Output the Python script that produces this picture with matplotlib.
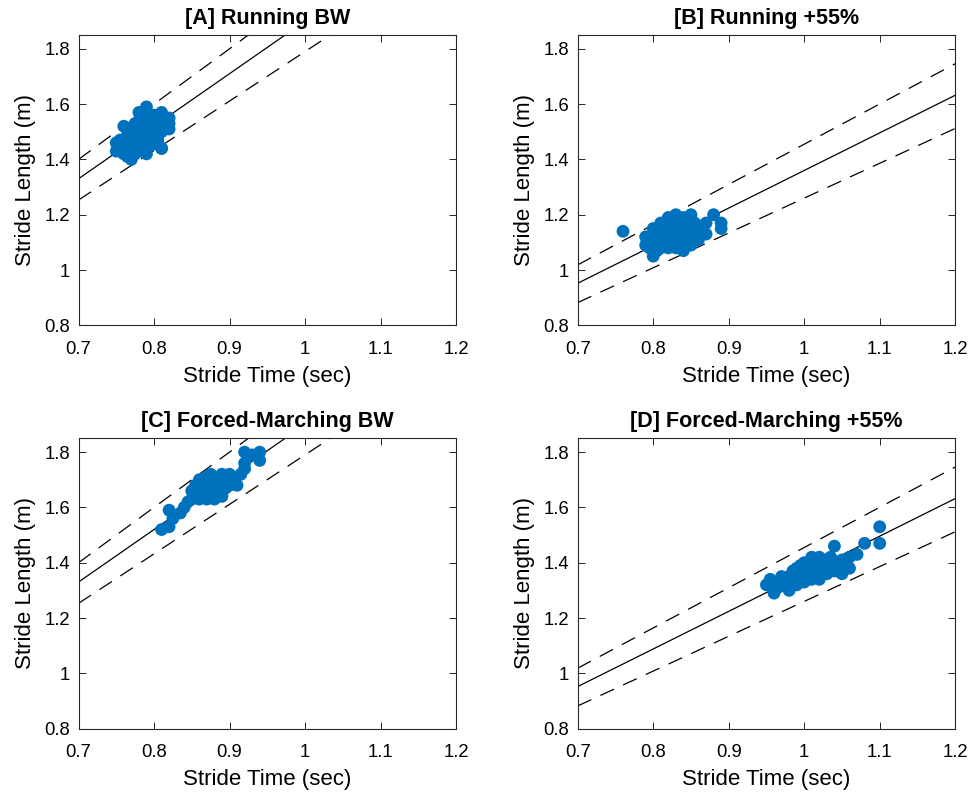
import matplotlib
matplotlib.use("Agg")
import matplotlib.pyplot as plt
import numpy as np

plt.rcParams["font.family"] = ["Liberation Sans", "DejaVu Sans"]

# stride time (sec) / stride length (m) per condition
a_time = [0.75, 0.75, 0.755, 0.755, 0.76, 0.76, 0.76, 0.765, 0.765, 0.765,
          0.77, 0.77, 0.77, 0.77, 0.775, 0.775, 0.775, 0.775, 0.78, 0.78,
          0.78, 0.78, 0.78, 0.785, 0.785, 0.785, 0.785, 0.79, 0.79, 0.79,
          0.79, 0.79, 0.795, 0.795, 0.795, 0.8, 0.8, 0.8, 0.8, 0.805,
          0.805, 0.805, 0.81, 0.81, 0.81, 0.815, 0.815, 0.82, 0.82, 0.82, 0.81]
a_len = [1.43, 1.46, 1.44, 1.47, 1.42, 1.45, 1.52, 1.41, 1.44, 1.49,
         1.40, 1.43, 1.47, 1.51, 1.42, 1.45, 1.49, 1.53, 1.43, 1.46,
         1.50, 1.54, 1.57, 1.44, 1.48, 1.52, 1.55, 1.42, 1.47, 1.51,
         1.55, 1.59, 1.45, 1.50, 1.53, 1.46, 1.49, 1.52, 1.56, 1.47,
         1.51, 1.55, 1.44, 1.50, 1.57, 1.52, 1.55, 1.51, 1.53, 1.55, 1.44]

b_time = [0.76, 0.79, 0.79, 0.795, 0.795, 0.8, 0.8, 0.8, 0.8, 0.805,
          0.805, 0.805, 0.81, 0.81, 0.81, 0.81, 0.815, 0.815, 0.815, 0.82,
          0.82, 0.82, 0.82, 0.825, 0.825, 0.825, 0.83, 0.83, 0.83, 0.83,
          0.835, 0.835, 0.835, 0.84, 0.84, 0.84, 0.845, 0.845, 0.85, 0.85,
          0.85, 0.855, 0.855, 0.86, 0.86, 0.865, 0.87, 0.87, 0.88, 0.89, 0.89]
b_len = [1.14, 1.09, 1.12, 1.08, 1.11, 1.05, 1.08, 1.12, 1.15, 1.07,
         1.10, 1.13, 1.08, 1.11, 1.14, 1.17, 1.09, 1.12, 1.16, 1.08,
         1.11, 1.14, 1.19, 1.10, 1.13, 1.17, 1.08, 1.12, 1.15, 1.20,
         1.10, 1.14, 1.18, 1.07, 1.12, 1.19, 1.11, 1.16, 1.09, 1.13,
         1.20, 1.12, 1.17, 1.11, 1.15, 1.14, 1.13, 1.17, 1.20, 1.17, 1.15]

c_time = [0.81, 0.82, 0.82, 0.825, 0.835, 0.84, 0.845, 0.85, 0.85, 0.855,
          0.855, 0.86, 0.86, 0.86, 0.865, 0.865, 0.87, 0.87, 0.87, 0.875,
          0.875, 0.875, 0.88, 0.88, 0.88, 0.885, 0.885, 0.89, 0.89, 0.89,
          0.895, 0.895, 0.9, 0.9, 0.905, 0.91, 0.915, 0.92, 0.92, 0.93,
          0.94, 0.94, 0.92]
c_len = [1.52, 1.53, 1.59, 1.56, 1.58, 1.60, 1.62, 1.63, 1.66, 1.64,
         1.68, 1.63, 1.67, 1.70, 1.65, 1.69, 1.63, 1.67, 1.71, 1.65,
         1.69, 1.72, 1.63, 1.67, 1.71, 1.66, 1.70, 1.64, 1.68, 1.72,
         1.67, 1.71, 1.68, 1.72, 1.70, 1.68, 1.72, 1.74, 1.80, 1.79,
         1.80, 1.77, 1.76]

d_time = [0.95, 0.955, 0.96, 0.96, 0.965, 0.97, 0.97, 0.975, 0.98, 0.98,
          0.985, 0.985, 0.99, 0.99, 0.995, 0.995, 1.0, 1.0, 1.0, 1.005,
          1.005, 1.01, 1.01, 1.01, 1.015, 1.015, 1.02, 1.02, 1.02, 1.025,
          1.025, 1.03, 1.03, 1.035, 1.035, 1.04, 1.04, 1.045, 1.05, 1.05,
          1.055, 1.06, 1.06, 1.07, 1.08, 1.1, 1.1]
d_len = [1.32, 1.34, 1.29, 1.33, 1.31, 1.33, 1.35, 1.32, 1.30, 1.35,
         1.34, 1.37, 1.32, 1.38, 1.35, 1.39, 1.33, 1.37, 1.40, 1.35,
         1.39, 1.34, 1.38, 1.42, 1.36, 1.40, 1.34, 1.38, 1.42, 1.37,
         1.41, 1.36, 1.40, 1.38, 1.42, 1.37, 1.46, 1.40, 1.36, 1.41,
         1.39, 1.38, 1.42, 1.43, 1.47, 1.53, 1.47]

titles = ["[A] Running BW", "[B] Running +55%",
          "[C] Forced-Marching BW", "[D] Forced-Marching +55%"]
# slopes of lines through origin (m per sec): fit, upper band, lower band
fit_slope = [1.9, 1.36, 1.9, 1.36]
upper_slope = [2.0, 1.455, 2.0, 1.455]
lower_slope = [1.79, 1.26, 1.79, 1.26]

x_ticks = [0.7, 0.8, 0.9, 1.0, 1.1, 1.2]
x_labels = ["0.7", "0.8", "0.9", "1", "1.1", "1.2"]
y_ticks = [0.8, 1.0, 1.2, 1.4, 1.6, 1.8]
y_labels = ["0.8", "1", "1.2", "1.4", "1.6", "1.8"]

data = [(a_time, a_len), (b_time, b_len), (c_time, c_len), (d_time, d_len)]

W, H = 977, 792
fig = plt.figure(figsize=(W / 100, H / 100), dpi=100)

# axes rectangles in pixels: left, top
lefts = [78.5, 577.7, 78.5, 577.7]
tops = [35.0, 35.0, 438.3, 438.3]
aw, ah = 377.5, 290.3

edge = "#262626"
for i in range(4):
    ax = fig.add_axes([lefts[i] / W, 1 - (tops[i] + ah) / H, aw / W, ah / H])
    xs = np.array([0.7, 1.2])
    ax.plot(xs, fit_slope[i] * xs, "-", color="black", linewidth=0.9)
    for k in (upper_slope[i], lower_slope[i]):
        ax.plot(xs, k * xs, color="black", linewidth=0.9,
                linestyle=(0, (12, 8)))
    t, s = data[i]
    ax.scatter(t, s, s=85, color="#0072BD", edgecolors="none", zorder=3)

    ax.set_xlim(0.7, 1.2)
    ax.set_ylim(0.8, 1.85)
    ax.set_xticks(x_ticks)
    ax.set_xticklabels(x_labels)
    ax.set_yticks(y_ticks)
    ax.set_yticklabels(y_labels)
    ax.tick_params(direction="in", top=True, right=True, length=5,
                   width=0.7, color=edge, labelsize=13.3)
    ax.tick_params(axis="x", pad=11)
    ax.tick_params(axis="y", pad=6)
    for sp in ax.spines.values():
        sp.set_color(edge)
        sp.set_linewidth(0.8)
    ax.set_xlabel("Stride Time (sec)", fontsize=16, labelpad=6)
    ax.set_ylabel("Stride Length (m)", fontsize=16, labelpad=6)
    ax.set_title(titles[i], fontsize=15.5, fontweight="bold", pad=8)

fig.savefig("out.png", dpi=100)
